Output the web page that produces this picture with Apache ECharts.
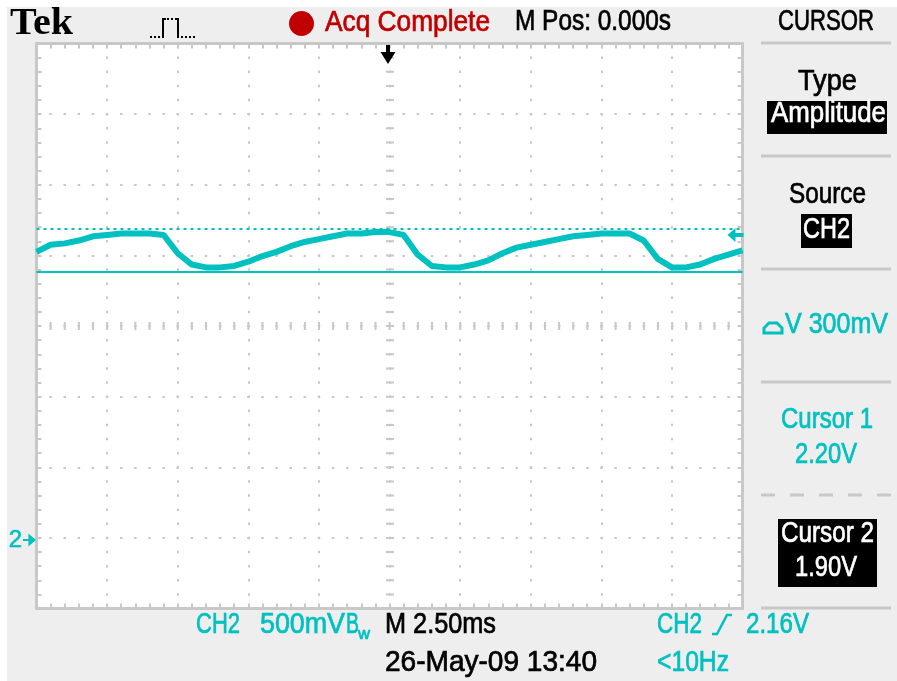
<!DOCTYPE html>
<html>
<head>
<meta charset="utf-8">
<script src="https://cdn.jsdelivr.net/npm/echarts@6/dist/echarts.min.js"></script>
<style>
  html, body { margin: 0; padding: 0; background: #fff; }
  #chart { width: 897px; height: 681px; }
</style>
</head>
<body>
<div id="chart"></div>
<script>
// CH2 trace (time in ms, value in V)
const timeMs = [-12.5, -12, -11.5, -11, -10.5, -10, -9.5, -9, -8.5, -8, -7.5, -7, -6.5, -6, -5.5, -5, -4.5, -4, -3.5, -3, -2.5, -2, -1.5, -1, -0.5, 0,
  0.5, 1, 1.5, 2, 2.5, 3, 3.5, 4, 4.5, 5, 5.5, 6, 6.5, 7, 7.5, 8, 8.5, 9, 9.5, 10, 10.5, 11, 11.5, 12, 12.5]
const ch2Volts = [2.04, 2.09, 2.10, 2.12, 2.15, 2.16, 2.17, 2.17, 2.17, 2.16, 2.03, 1.95, 1.93, 1.93, 1.94, 1.97, 2.01, 2.04, 2.08, 2.11, 2.13, 2.15, 2.17, 2.17, 2.18, 2.18,
  2.16, 2.02, 1.94, 1.93, 1.93, 1.95, 1.98, 2.03, 2.07, 2.09, 2.11, 2.13, 2.15, 2.16, 2.17, 2.17, 2.17, 2.12, 1.99, 1.93, 1.93, 1.95, 1.99, 2.02, 2.05]
const cursorVolts = [2.20, 1.90]
const triggerLevel = 2.16
const triggerTime = 0
const groundVolts = 0

const timePerDiv = 2.5 // M 2.50ms
const voltsPerDiv = 0.5 // CH2 500mV
const centerVolts = 1.515 // volts at the middle of the screen

const CYAN = '#00c0c0'
const GRAY = '#c8c8c8'
const RED = '#c00000'

const chart = echarts.init(document.getElementById('chart'))

// text helper: squeeze a font into the scope's narrow lettering
const ctx = document.createElement('canvas').getContext('2d')
function label (text, x0, x1, base, color, size, family, weight) {
  size = size || 29
  family = family || '"Liberation Sans"'
  const font = (weight || 'normal') + ' ' + size + 'px ' + family
  ctx.font = font
  const w = ctx.measureText(text).width
  return {
    type: 'text', x: x0, y: base - 0.345 * size, scaleX: (x1 - x0) / w, silent: true, z: 20,
    style: { text, font, fill: color, stroke: weight ? null : color, lineWidth: 0.7, textAlign: 'left', verticalAlign: 'middle' }
  }
}
function hline (x0, x1, y, dash) {
  return {
    type: 'line', silent: true, z: 5,
    shape: { x1: x0, y1: y, x2: x1, y2: y },
    style: { stroke: GRAY, lineWidth: 3, lineDash: dash || null }
  }
}
function box (x, y, w, h) {
  return { type: 'rect', silent: true, z: 10, shape: { x, y, width: w, height: h }, style: { fill: '#000' } }
}

const graphic = [
  { type: 'rect', silent: true, z: -100, shape: { x: 7, y: 7, width: 890, height: 674 }, style: { fill: '#eeeeee' } },
  label('Tek', 10, 73, 37, '#000', 38, '"Liberation Serif"', 'bold'),
  // trigger icon
  { type: 'polyline', silent: true, z: 20, shape: { points: [[150, 37], [162, 37]] }, style: { stroke: '#000', lineWidth: 2, lineDash: [2, 2] } },
  { type: 'polyline', silent: true, z: 20, shape: { points: [[163, 38], [163, 19], [166, 19]] }, style: { stroke: '#000', lineWidth: 2 } },
  { type: 'polyline', silent: true, z: 20, shape: { points: [[167, 19], [176, 19]] }, style: { stroke: '#000', lineWidth: 2, lineDash: [2, 2] } },
  { type: 'polyline', silent: true, z: 20, shape: { points: [[176, 19], [178, 19], [178, 38]] }, style: { stroke: '#000', lineWidth: 2 } },
  { type: 'polyline', silent: true, z: 20, shape: { points: [[181, 37], [196, 37]] }, style: { stroke: '#000', lineWidth: 2, lineDash: [2, 2] } },
  { type: 'circle', silent: true, z: 20, shape: { cx: 301.5, cy: 23.5, r: 12.5 }, style: { fill: RED } },
  label('Acq Complete', 325, 490, 33, RED),
  label('M Pos: 0.000s', 515, 671, 32, '#000'),
  label('CURSOR', 778, 874, 32, '#000'),
  // right menu
  hline(761, 891, 43),
  label('Type', 798, 857, 92, '#000'),
  box(767, 101, 120, 33),
  label('Amplitude', 771, 886, 124, '#fff'),
  hline(761, 891, 156),
  label('Source', 789, 866, 205, '#000'),
  box(801, 214, 51, 34),
  label('CH2', 803, 850, 240, '#fff'),
  hline(761, 891, 269),
  { type: 'polygon', silent: true, z: 20, shape: { points: [[764, 333], [764, 328], [769, 323], [777, 323], [782, 328], [782, 333]] }, style: { stroke: CYAN, lineWidth: 3, fill: null } },
  label('V 300mV', 785, 888, 335, CYAN),
  hline(761, 891, 382),
  label('Cursor 1', 781, 873, 430, CYAN),
  label('2.20V', 795, 857, 465, CYAN),
  hline(761, 891, 495, [14, 15]),
  box(778, 519, 99, 68),
  label('Cursor 2', 781, 874, 544, '#fff'),
  label('1.90V', 795, 857, 578, '#fff'),
  hline(761, 891, 608),
  // status lines
  label('CH2', 196, 240, 635, CYAN),
  label('500mV', 260, 345, 635, CYAN),
  label('B', 346, 359, 635, CYAN),
  label('w', 358, 370, 640, CYAN, 16),
  label('M 2.50ms', 385, 496, 635, '#000'),
  label('CH2', 657, 702, 635, CYAN),
  { type: 'polyline', silent: true, z: 20, shape: { points: [[712, 634], [717, 634], [727, 615], [732, 615]] }, style: { stroke: CYAN, lineWidth: 2.5 } },
  label('2.16V', 746, 809, 635, CYAN),
  label('26-May-09 13:40', 385, 597, 673, '#000'),
  label('<10Hz', 657, 729, 673, CYAN)
]

const tickStyle = {
  axisTick: { show: true, inside: true, length: 5, lineStyle: { color: GRAY, width: 2 } },
  minorTick: { show: true, splitNumber: 5, length: 5, lineStyle: { color: GRAY, width: 2 } },
  axisLine: { show: true, onZero: false, lineStyle: { color: GRAY, width: 3 } },
  axisLabel: { show: false }
}
const dotted = { show: true, lineStyle: { color: GRAY, width: 2, type: [2.5, 11.625], dashOffset: 1.25 } }

const option = {
  backgroundColor: '#fff',
  animation: false,
  graphic,
  grid: { left: 36.5, top: 43.5, width: 706, height: 565, show: true, backgroundColor: '#fff', borderWidth: 0 },
  xAxis: [
    { type: 'value', position: 'bottom', min: -5 * timePerDiv, max: 5 * timePerDiv, interval: timePerDiv, splitLine: dotted, ...tickStyle },
    { type: 'value', position: 'top', min: -5 * timePerDiv, max: 5 * timePerDiv, interval: timePerDiv, splitLine: { show: false }, ...tickStyle }
  ],
  yAxis: [
    { type: 'value', position: 'left', min: -4, max: 4, interval: 1, splitLine: dotted, ...tickStyle },
    { type: 'value', position: 'right', min: -4, max: 4, interval: 1, splitLine: { show: false }, ...tickStyle },
    { type: 'value', show: false, min: centerVolts - 4 * voltsPerDiv, max: centerVolts + 4 * voltsPerDiv }
  ],
  series: [
    {
      // centre cross ticks
      type: 'line', xAxisIndex: 0, yAxisIndex: 0, data: [], silent: true, z: 1,
      markLine: {
        silent: true, symbol: ['none', 'none'], label: { show: false },
        lineStyle: { color: GRAY, width: 8, type: [2, 12.125], dashOffset: 1 },
        emphasis: { disabled: true },
        data: [{ yAxis: 0 }, { xAxis: 0 }]
      }
    },
    {
      // cursors and markers
      type: 'line', xAxisIndex: 0, yAxisIndex: 2, data: [], silent: true, z: 2,
      markLine: {
        silent: true, symbol: ['none', 'none'], label: { show: false }, emphasis: { disabled: true },
        data: [
          { yAxis: cursorVolts[0], lineStyle: { color: CYAN, width: 2, type: [3, 4] } },
          { yAxis: cursorVolts[1], lineStyle: { color: CYAN, width: 2, type: 'solid' } }
        ]
      },
      markPoint: {
        silent: true,
        data: [
          {
            coord: [5 * timePerDiv, triggerLevel], symbol: 'path://M0,7 L8,0 L8,5 L16,5 L16,9 L8,9 L8,14 Z',
            symbolSize: [16, 14], symbolOffset: [-7, 0], itemStyle: { color: CYAN }, label: { show: false }
          },
          {
            coord: [triggerTime, centerVolts + 4 * voltsPerDiv], symbol: 'path://M5.5,0 L9.5,0 L9.5,7 L15,7 L7.5,19 L0,7 L5.5,7 Z',
            symbolSize: [15, 19], symbolOffset: [-1.5, 11], itemStyle: { color: '#000' }, label: { show: false }
          },
          {
            coord: [-5 * timePerDiv, groundVolts], symbol: 'path://M0,5 L5,5 L5,0 L12,6 L5,12 L5,7 L0,7 Z',
            symbolSize: [13, 13], symbolOffset: [-7, 0], itemStyle: { color: CYAN },
            label: { show: true, formatter: '2', position: 'left', distance: 1, color: CYAN, fontSize: 24, fontFamily: 'Liberation Sans', textBorderColor: CYAN, textBorderWidth: 0.6 }
          }
        ]
      }
    },
    {
      name: 'CH2', type: 'line', xAxisIndex: 0, yAxisIndex: 2, z: 3,
      data: timeMs.map((t, i) => [t, ch2Volts[i]]),
      symbol: 'none', silent: true,
      lineStyle: { color: CYAN, width: 6 }
    }
  ]
}

chart.setOption(option)
</script>
</body>
</html>
